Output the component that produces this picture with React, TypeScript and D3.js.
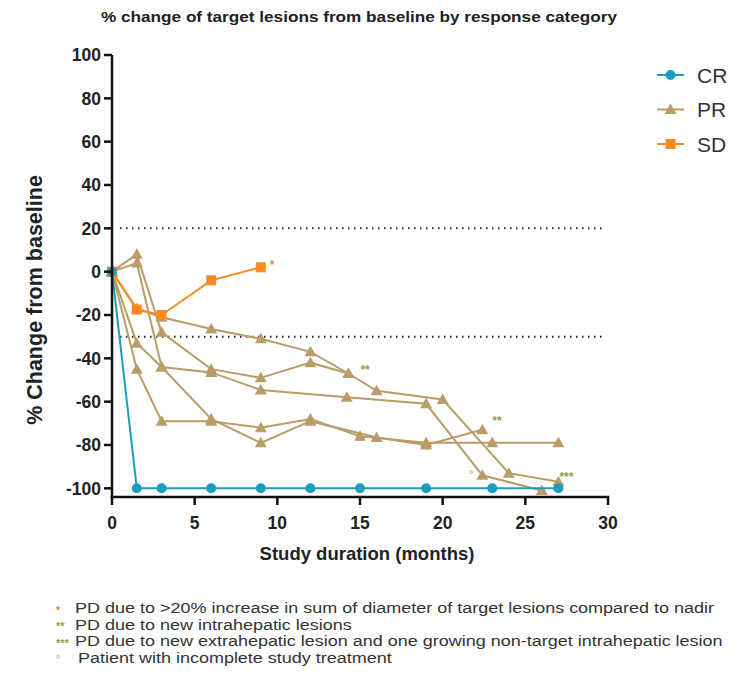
import React from 'react'
import * as d3 from 'd3'

const chartTitle = '% change of target lesions from baseline by response category'
const yTitle = '% Change from baseline'
const xTitle = 'Study duration (months)'

const xTicks = [0, 5, 10, 15, 20, 25, 30]
const yTicks = [100, 80, 60, 40, 20, 0, -20, -40, -60, -80, -100]
const thresholds = [20, -30]

const crMonths = [0, 1.5, 3, 6, 9, 12, 15, 19, 23, 27]
const crValues = [0, -100, -100, -100, -100, -100, -100, -100, -100, -100]

const sdMonths = [0, 1.5, 3, 6, 9]
const sdValues = [0, -17.5, -20, -4, 2]

const prAMonths = [0, 1.5, 3, 6, 9, 12, 14.3, 16, 20, 24, 27]
const prAValues = [0, -17, -21, -26.5, -31, -37, -47, -55, -59, -93, -97]
const prBMonths = [0, 1.5, 3, 6, 9, 12, 14.3]
const prBValues = [0, 8, -28, -45, -49, -42, -47]
const prCMonths = [0, 1.5, 3, 6, 9, 14.2, 19, 22.4, 26]
const prCValues = [0, -33, -44, -46.5, -54.6, -58, -61, -94, -101]
const prDMonths = [0, 1.5, 3, 6, 9, 12, 15, 19, 23, 27]
const prDValues = [0, -45, -69, -69, -72, -68, -76, -79, -79, -79]
const prEMonths = [0, 1.5, 3, 6, 9, 12, 16, 19, 22.4]
const prEValues = [0, 4, -44, -68, -79, -69, -76.5, -80, -73]

const prPatients = [
  { months: prAMonths, values: prAValues },
  { months: prBMonths, values: prBValues },
  { months: prCMonths, values: prCValues },
  { months: prDMonths, values: prDValues },
  { months: prEMonths, values: prEValues }
]

// marks placed next to the last point of a patient line
const notes = [
  { month: 9, value: 2, mark: '*', kind: 'sd', dx: 9, dy: 2 },
  { month: 14.3, value: -47, mark: '**', kind: 'new', dx: 12, dy: 0 },
  { month: 22.4, value: -73, mark: '**', kind: 'new', dx: 10, dy: -5 },
  { month: 27, value: -97, mark: '***', kind: 'new', dx: 1, dy: -1 },
  { month: 22.4, value: -94, mark: '°', kind: 'inc', dx: -9, dy: 4 }
]

const footnotes = [
  { mark: '*', kind: 'sd', text: 'PD due to >20% increase in sum of diameter of target lesions compared to nadir' },
  { mark: '**', kind: 'new', text: 'PD due to new intrahepatic lesions' },
  { mark: '***', kind: 'new', text: 'PD due to new extrahepatic lesion and one growing non-target intrahepatic lesion' },
  { mark: '°', kind: 'inc', text: 'Patient with incomplete study treatment' }
]

const legendItems = ['CR', 'PR', 'SD']

const colors: Record<string, string> = {
  CR: '#1c9dbd',
  PR: '#b99c68',
  SD: '#f98a1f',
  sd: '#f98a1f',
  new: '#9a9a52',
  inc: '#c8c08a'
}

const font = 'Arial, "Liberation Sans", Helvetica, sans-serif'

function Marker({ kind, x, y }: { kind: string; x: number; y: number }) {
  if (kind === 'CR') return <circle cx={x} cy={y} r={5} fill={colors.CR} />
  if (kind === 'SD') return <rect x={x - 5} y={y - 5} width={10} height={10} fill={colors.SD} />
  const s = 6
  return (
    <path
      d={`M${x},${y - s}L${x + s},${y + s * 0.75}L${x - s},${y + s * 0.75}Z`}
      fill={colors.PR}
    />
  )
}

export default function App() {
  const width = 733
  const height = 684
  const x = d3.scaleLinear().domain([0, 30]).range([112, 608])
  const y = d3.scaleLinear().domain([-104, 100]).range([497, 55])

  const line = d3
    .line<[number, number]>()
    .x(d => x(d[0]))
    .y(d => y(d[1]))

  const pts = (months: number[], values: number[]) =>
    months.map((m, i) => [m, values[i]] as [number, number])

  const x0 = x(0)
  const yBase = y(-104)

  return (
    <svg
      width={width}
      height={height}
      style={{ position: 'absolute', left: 0, top: 0, background: '#fff' }}
      fontFamily={font}
    >
      <text x={101} y={22} fontSize={15} fontWeight="bold" fill="#222" textLength={516} lengthAdjust="spacingAndGlyphs">
        {chartTitle}
      </text>

      {thresholds.map(t => (
        <line
          key={t}
          x1={120}
          x2={606}
          y1={y(t)}
          y2={y(t)}
          stroke="#222"
          strokeWidth={2}
          strokeDasharray="1.5 4.5"
        />
      ))}

      {prPatients.map((p, i) => (
        <g key={`pr_${i}`}>
          <path d={line(pts(p.months, p.values)) || ''} fill="none" stroke={colors.PR} strokeWidth={2} />
          {p.months.map((m, j) => (
            <Marker key={j} kind="PR" x={x(m)} y={y(p.values[j])} />
          ))}
        </g>
      ))}

      <path d={line(pts(sdMonths, sdValues)) || ''} fill="none" stroke={colors.SD} strokeWidth={2} />
      {sdMonths.map((m, j) => (
        <Marker key={`sd_${j}`} kind="SD" x={x(m)} y={y(sdValues[j])} />
      ))}

      <path d={line(pts(crMonths, crValues)) || ''} fill="none" stroke={colors.CR} strokeWidth={2} />
      {crMonths.map((m, j) => (
        <Marker key={`cr_${j}`} kind="CR" x={x(m)} y={y(crValues[j])} />
      ))}

      {notes.map((n, i) => (
        <text
          key={`note_${i}`}
          x={x(n.month) + n.dx}
          y={y(n.value) + n.dy}
          fontSize={12}
          fontWeight="bold"
          fill={colors[n.kind]}
          textAnchor={n.dx < 0 ? 'end' : 'start'}
        >
          {n.mark}
        </text>
      ))}

      {/* axes */}
      <line x1={x0} x2={x0} y1={y(100)} y2={yBase + 1.25} stroke="#111" strokeWidth={2.5} />
      <line x1={x0 - 1.25} x2={x(30) + 1.25} y1={yBase} y2={yBase} stroke="#111" strokeWidth={2.5} />
      {yTicks.map(t => (
        <g key={`yt_${t}`}>
          <line x1={x0 - 8} x2={x0} y1={y(t)} y2={y(t)} stroke="#111" strokeWidth={2.5} />
          <text
            x={x0 - 11}
            y={y(t)}
            dy="0.36em"
            textAnchor="end"
            fontSize={17.5}
            fontWeight="bold"
            fill="#222"
          >
            {t}
          </text>
        </g>
      ))}
      {xTicks.map(t => (
        <g key={`xt_${t}`}>
          <line x1={x(t)} x2={x(t)} y1={yBase} y2={yBase + 8} stroke="#111" strokeWidth={2.5} />
          <text x={x(t)} y={529} textAnchor="middle" fontSize={17.5} fontWeight="bold" fill="#222">
            {t}
          </text>
        </g>
      ))}

      <text
        transform={`translate(42,300) rotate(-90)`}
        textAnchor="middle"
        fontSize={21.5}
        fontWeight="bold"
        fill="#222"
      >
        {yTitle}
      </text>
      <text x={367} y={560} textAnchor="middle" fontSize={18.5} fontWeight="bold" fill="#222">
        {xTitle}
      </text>

      {legendItems.map((k, i) => {
        const ly = 75 + i * 34.5
        return (
          <g key={`lg_${k}`}>
            <line x1={657} x2={684} y1={ly} y2={ly} stroke={colors[k]} strokeWidth={2} />
            <Marker kind={k} x={670.5} y={ly} />
            <text x={697} y={ly} dy="0.36em" fontSize={21} fill="#333">
              {k}
            </text>
          </g>
        )
      })}

      {footnotes.map((f, i) => {
        const fy = 608 + i * 16.5
        const tx = i === 3 ? 78 : 75
        return (
          <g key={`fn_${i}`}>
            <text x={56} y={fy} dy="0.5em" fontSize={11} fontWeight="bold" fill={colors[f.kind]}>
              {f.mark}
            </text>
            <text
              transform={`translate(${tx},${fy}) scale(1.2,1)`}
              dy="0.36em"
              fontSize={15}
              fill="#333"
            >
              {f.text}
            </text>
          </g>
        )
      })}
    </svg>
  )
}
